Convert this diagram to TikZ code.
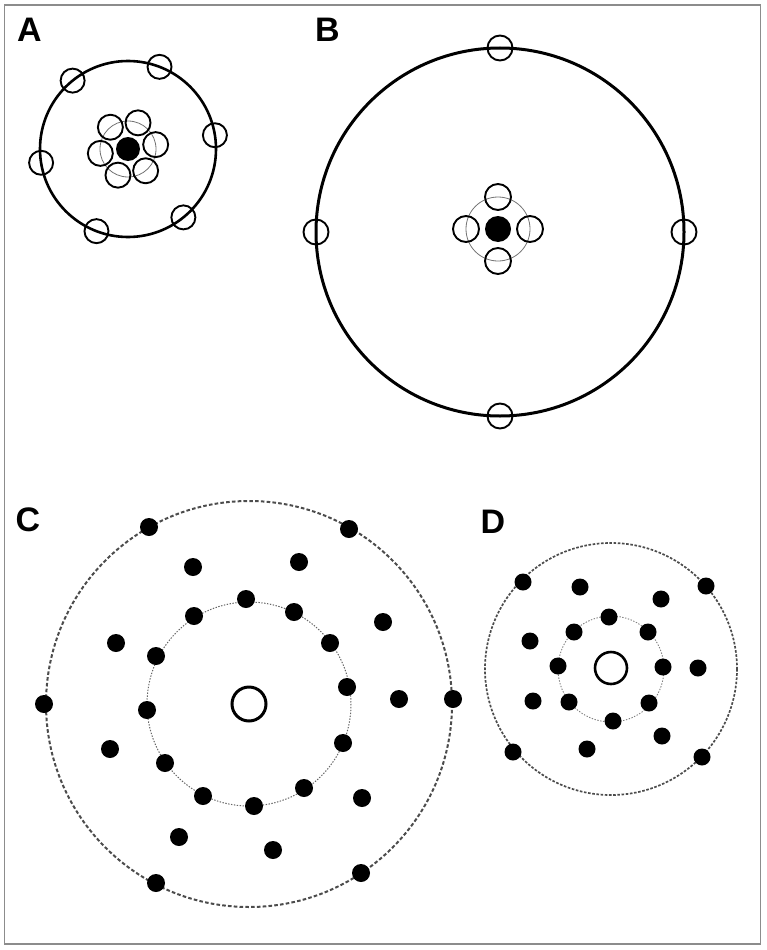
\documentclass[tikz,border=0pt]{standalone}
\usepackage{fontspec}
\setsansfont{Liberation Sans}
\begin{document}
\begin{tikzpicture}[x=1pt,y=-1pt,
    panel/.style={font=\sffamily\bfseries\fontsize{34}{34}\selectfont,inner sep=0pt},
    ring/.style={line width=1.9pt},
    orbit/.style={black!55,line width=0.8pt},
    outerdash/.style={black!70,line width=2pt,dash pattern=on 3.6pt off 2.2pt},
    innerdot/.style={black!60,line width=1pt,dash pattern=on 1.4pt off 1.5pt}]
  \useasboundingbox (0,0) rectangle (766,950);
  \draw[black!45,line width=1.2pt] (4.5,5) rectangle (760.5,944);

  \node[panel] (labA) at (29.5,30) {A};
  \draw[line width=2.6pt] (128,149) circle[radius=88];
  \draw[orbit] (128,149) circle[radius=28];
  \fill[black] (128,149) circle[radius=12];
  \foreach \a in {51,111,...,351} {
    \draw[ring] (128,149) ++(\a:88) circle[radius=12];
    \draw[ring] (128,149) ++(\a:28) circle[radius=12.5];
  }

  \node[panel] (labB) at (327.5,30) {B};
  \draw[line width=3pt] (500,232) circle[radius=184];
  \foreach \a in {0,90,180,270}
    \draw[ring] (500,232) ++(\a:184) circle[radius=12.5];
  \draw[orbit] (498,229) circle[radius=32];
  \fill[black] (498,229) circle[radius=13];
  \foreach \a in {0,90,180,270}
    \draw[ring] (498,229) ++(\a:32) circle[radius=13];

  \node[panel] (labC) at (28,520) {C};
  \draw[outerdash] (249,704) circle[radius=203];
  \draw[innerdot] (249,704) circle[radius=102];
  \draw[line width=3pt] (249,704) circle[radius=17];
  \foreach \x/\y in {149/527,349/529,44/704,453/699,156/883,361/873,
      193/567,299/562,383/622,116/643,399/699,110/749,362/798,179/837,273/850,
      246/599,294/612,194/616,330/643,156/656,347/687,147/710,343/743,
      165/763,304/788,203/796,254/806}
    \fill[black] (\x,\y) circle[radius=9];

  \node[panel] (labD) at (493,522) {D};
  \draw[outerdash,line width=1.7pt,dash pattern=on 2.6pt off 1.6pt] (611,669) circle[radius=126];
  \draw[innerdot,black!50,line width=0.9pt] (611,669) circle[radius=53];
  \draw[line width=2.6pt] (611,668) circle[radius=16];
  \foreach \x/\y in {523/582,706/586,513/752,702/757,
      580/587,661/599,530/641,698/668,533/701,662/736,587/749,
      609/617,574/632,648/632,558/666,663/667,569/702,649/703,613/721}
    \fill[black] (\x,\y) circle[radius=8.5];
\end{tikzpicture}
\end{document}
